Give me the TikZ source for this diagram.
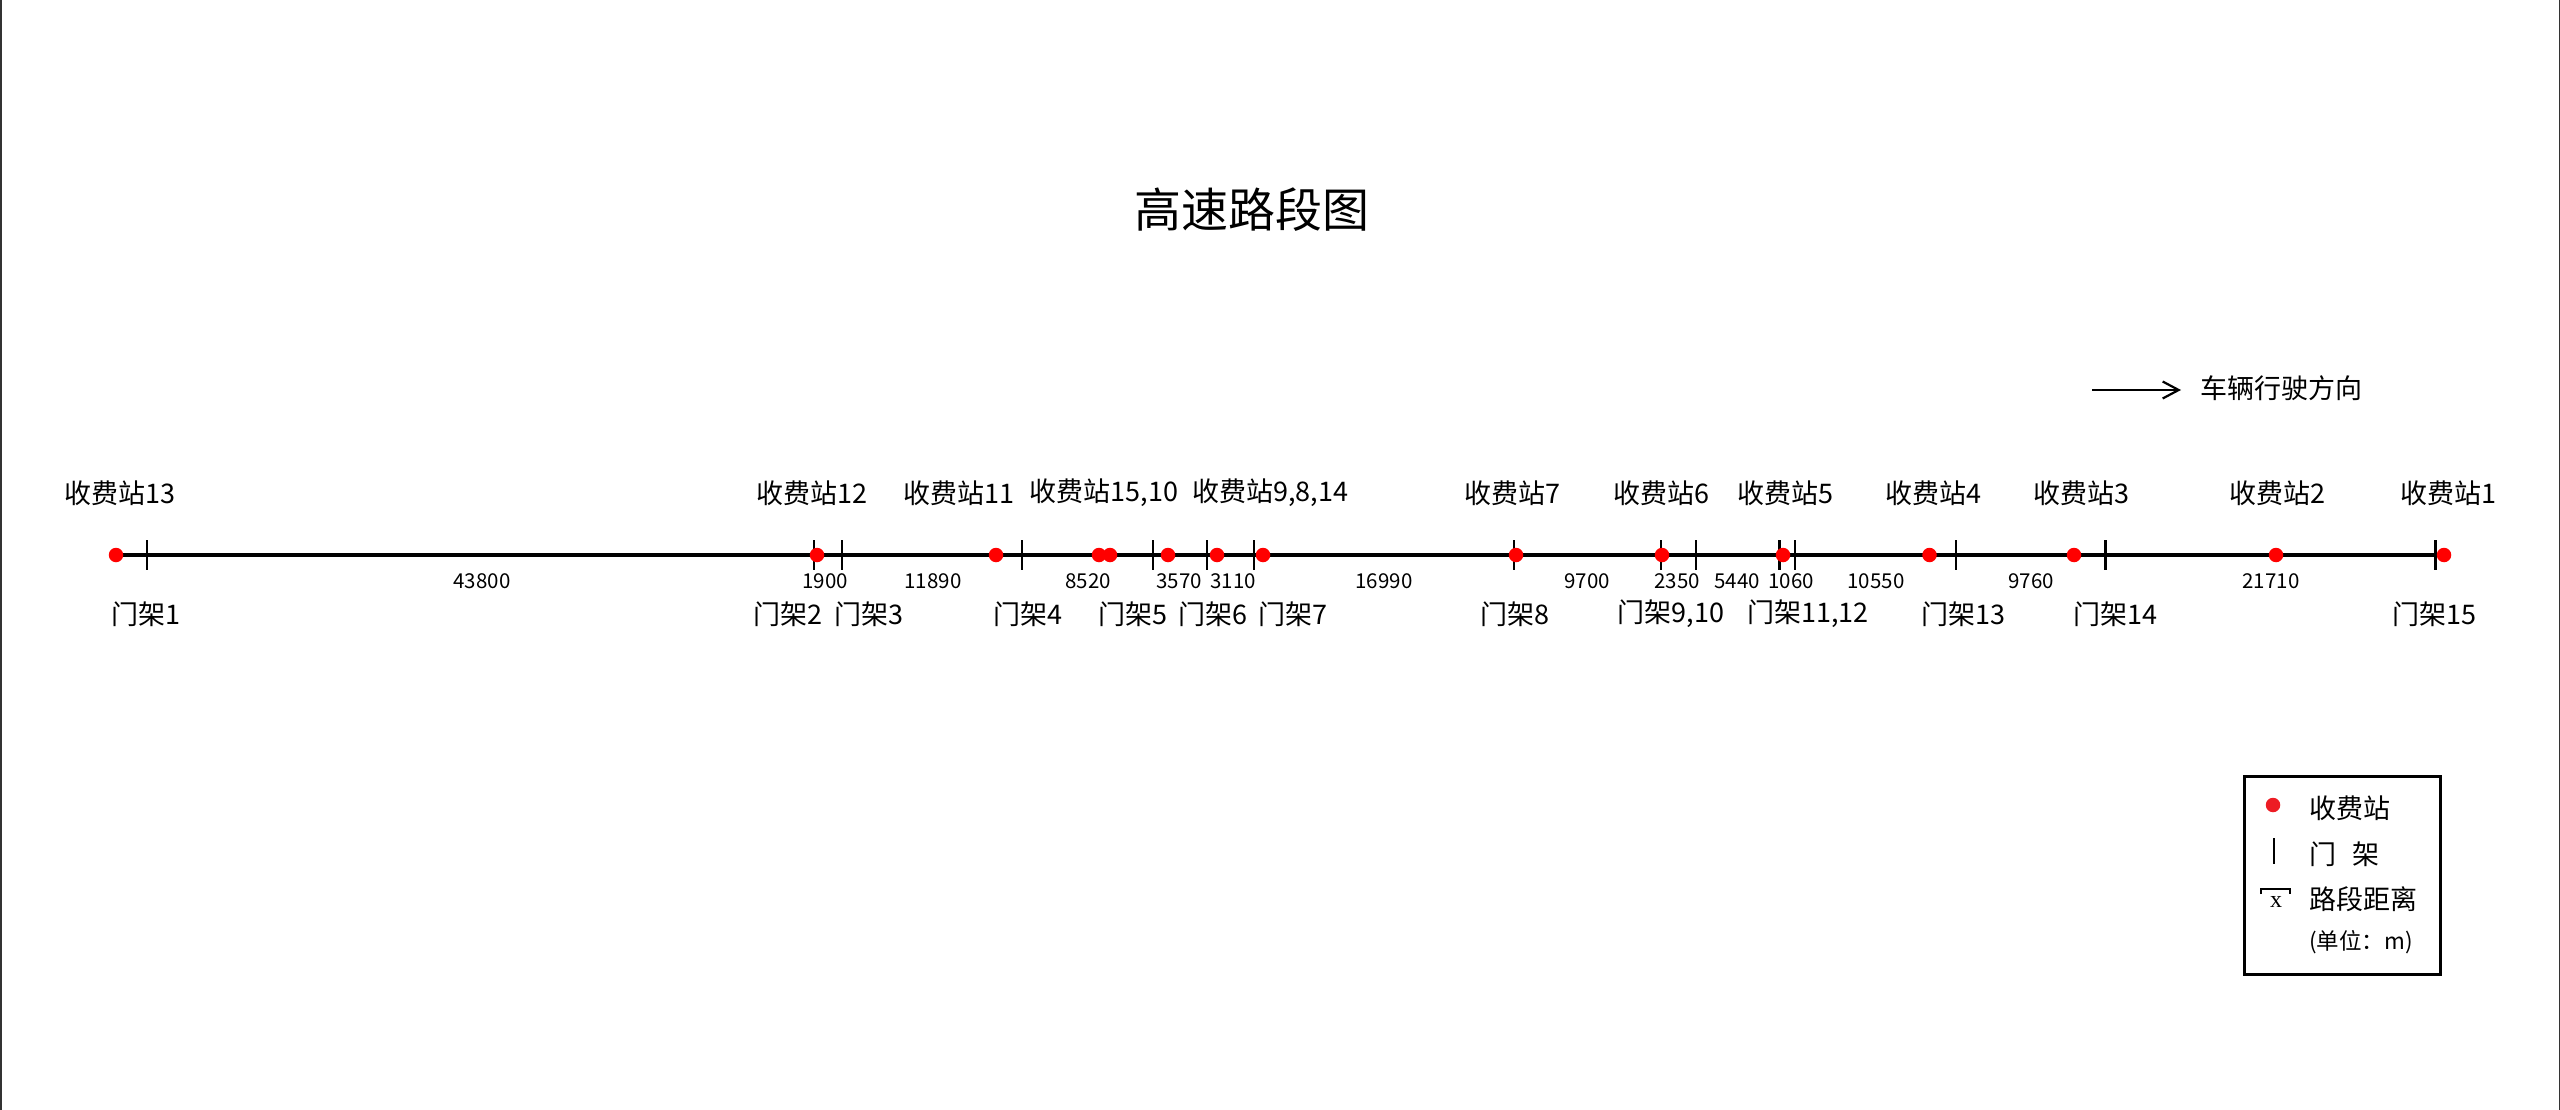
\documentclass[tikz,border=0pt]{standalone}
\usepackage{fontspec}
\setmainfont{Noto Sans CJK SC}
\newfontfamily\serifx{Liberation Serif}
\usetikzlibrary{arrows.meta}
\definecolor{tollred}{RGB}{255,0,0}
\definecolor{legred}{RGB}{237,28,36}
\tikzset{
  station/.style={circle,fill=tollred,inner sep=0pt,minimum size=14.5pt},
  gantrytick/.style={line width=2.9pt,black},
  mainline/.style={line width=3.2pt,black},
  toplabel/.style={font=\fontsize{27}{30}\selectfont,inner sep=0pt},
  botlabel/.style={font=\fontsize{27}{30}\selectfont,inner sep=0pt},
  distlabel/.style={font=\fontsize{20.5}{24}\selectfont,inner sep=0pt},
  legtext/.style={font=\fontsize{27}{30}\selectfont,inner sep=0pt,anchor=west},
  edgeline/.style={line width=1.5pt,black!80},
}
\begin{document}
\begin{tikzpicture}[x=1pt,y=-1pt]
\useasboundingbox (0,0) rectangle (2560,1110);
% side borders
\coordinate (bl1) at (0.75,0); \coordinate (bl2) at (0.75,1110);
\coordinate (br1) at (2559.25,0); \coordinate (br2) at (2559.25,1110);
\draw[edgeline] (bl1) -- (bl2);
\draw[edgeline] (br1) -- (br2);
% title
\node[font=\fontsize{47}{52}\selectfont,inner sep=0pt] (title) at (1252,210) {高速路段图};
% direction arrow
\coordinate (a1) at (2092,390);
\coordinate (a2) at (2181,390);
\draw[line width=2.2pt,-{Straight Barb[length=16pt,width=17pt,line width=2.2pt]}] (a1) -- (a2);
\node[toplabel] (dir) at (2281.5,388) {车辆行驶方向};
% gantries
\foreach \n/\x in {1/147,2/814,3/842,4/1022,5/1153,6/1207,7/1254,8/1514,9/1661,10/1696,11/1779.5,12/1795,13/1956,14/2105.5,15/2435.5}
  {\coordinate (g\n) at (\x,555);}
% stations
\foreach \n/\x in {13/116,12/817,11/996,15/1099,10/1110,9/1168,8/1217,14/1263,7/1516,6/1662,5/1783,4/1929.5,3/2074,2/2276,1/2444}
  {\coordinate (sc\n) at (\x,555);}
\draw[mainline] (sc13) -- (sc1);
\foreach \n in {1,...,15}
  {\draw[gantrytick] ([yshift=15pt]g\n) -- ([yshift=-15pt]g\n);}
\foreach \n in {13,12,11,15,10,9,8,14,7,6,5,4,3,2,1}
  {\node[station] (s\n) at (sc\n) {};}
% station labels
\foreach \t/\x [count=\i] in {13/120,12/812,11/959,{15,10}/1104,{9,8,14}/1270,7/1512,6/1661,5/1785,4/1933,3/2081,2/2277,1/2448}
  {\node[toplabel] (sl\i) at (\x,493) {收费站\t};}
% distance labels
\foreach \t/\x [count=\i] in {43800/482,1900/825,11890/933,8520/1088,3570/1179,3110/1233,16990/1384,9700/1587,2350/1677,5440/1737,1060/1791,10550/1876,9760/2031,21710/2271}
  {\node[distlabel] (dl\i) at (\x,581) {\t};}
% gantry labels
\foreach \t/\x [count=\i] in {1/146,2/788,3/869,4/1028,5/1133,6/1213,7/1293,8/1515,{9,10}/1671,{11,12}/1808,13/1963,14/2115,15/2434}
  {\node[botlabel] (gl\i) at (\x,614) {门架\t};}
% legend
\node[draw,line width=3pt,minimum width=196pt,minimum height=198pt,inner sep=0pt,anchor=north west] (legend) at (2243,775) {};
\node[circle,fill=legred,inner sep=0pt,minimum size=14.5pt] (ldot) at (2273,805) {};
\coordinate (lt1) at (2274,838); \coordinate (lt2) at (2274,864);
\draw[gantrytick] (lt1) -- (lt2);
\coordinate (lb1) at (2261,894); \coordinate (lb2) at (2261,889);
\coordinate (lb3) at (2290,889); \coordinate (lb4) at (2290,894);
\draw[line width=2.2pt] (lb1) -- (lb2) -- (lb3) -- (lb4);
\node[font=\serifx\fontsize{24}{26}\selectfont,inner sep=0pt] (lx) at (2276,902) {x};
\node[legtext] (lt-a) at (2309,808) {收费站};
\node[legtext] (lt-b) at (2309,854) {门\hspace{0.62em}架};
\node[legtext] (lt-c) at (2309,899) {路段距离};
\node[legtext,font=\fontsize{22.5}{26}\selectfont] (lt-d) at (2309,942) {(单位：m)};
\end{tikzpicture}
\end{document}
